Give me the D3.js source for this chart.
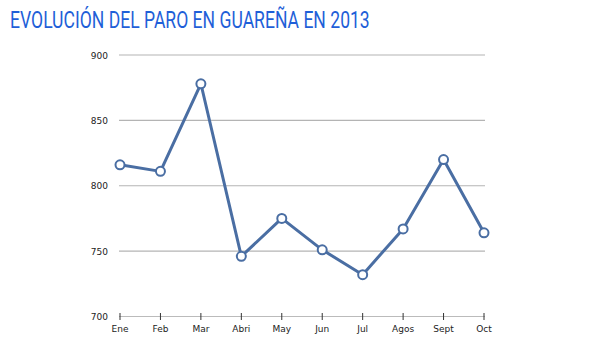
<!DOCTYPE html>
<html><head><meta charset="utf-8">
<script src="https://cdn.jsdelivr.net/npm/d3@7"></script>
<style>body{margin:0;background:#fff}svg{display:block}</style>
</head><body>
<svg id="c" width="600" height="355"></svg>
<script>
const title = "EVOLUCIÓN DEL PARO EN GUAREÑA EN 2013";
const months = ["Ene","Feb","Mar","Abri","May","Jun","Jul","Agos","Sept","Oct"];
const values = [816, 811, 878, 746, 775, 751, 732, 767, 820, 764];
const yTicks = [700, 750, 800, 850, 900];

const svg = d3.select("#c");
const x = d3.scalePoint().domain(months).range([120, 484]);
const y = d3.scaleLinear().domain([700, 900]).range([316.5, 55]);

const t = svg.append("text").attr("x", 10).attr("y", 28)
  .attr("font-family", "Roboto").attr("font-size", 23).attr("fill", "#1f5fd8")
  .text(title);
const w = t.node().getComputedTextLength();
t.attr("transform", `translate(10,0) scale(${360 / w},1) translate(-10,0)`);

// grid
svg.append("g").selectAll("line").data(yTicks.filter(d => d !== 700)).join("line")
  .attr("x1", 119).attr("x2", 485).attr("y1", d => y(d)).attr("y2", d => y(d))
  .attr("stroke", "#b4b4b4").attr("stroke-width", 1.2);

// y labels
svg.append("g").selectAll("text").data(yTicks).join("text")
  .attr("x", 108).attr("y", d => y(d) + 3.5).attr("text-anchor", "end")
  .attr("font-family", "DejaVu Sans").attr("font-size", 9).attr("fill", "#222")
  .text(d => d);

// x axis
svg.append("line").attr("x1", 119).attr("x2", 485).attr("y1", y(700)).attr("y2", y(700))
  .attr("stroke", "#bbb").attr("stroke-width", 1.2);
svg.append("g").selectAll("line").data(months).join("line")
  .attr("x1", d => x(d)).attr("x2", d => x(d)).attr("y1", y(700) - 3.5).attr("y2", y(700) + 3.5)
  .attr("stroke", "#333").attr("stroke-width", 1);
svg.append("g").selectAll("text").data(months).join("text")
  .attr("x", d => x(d)).attr("y", 332).attr("text-anchor", "middle")
  .attr("font-family", "DejaVu Sans").attr("font-size", 9).attr("fill", "#222")
  .text(d => d);

const data = months.map((m, i) => ({m, v: values[i]}));
svg.append("path").datum(data)
  .attr("d", d3.line().x(d => x(d.m)).y(d => y(d.v)))
  .attr("fill", "none").attr("stroke", "#4a6ea3").attr("stroke-width", 3)
  .attr("stroke-linejoin", "round");
svg.append("g").selectAll("circle").data(data).join("circle")
  .attr("cx", d => x(d.m)).attr("cy", d => y(d.v)).attr("r", 4.5)
  .attr("fill", "#fff").attr("stroke", "#4a6ea3").attr("stroke-width", 2);
</script>
</body></html>
